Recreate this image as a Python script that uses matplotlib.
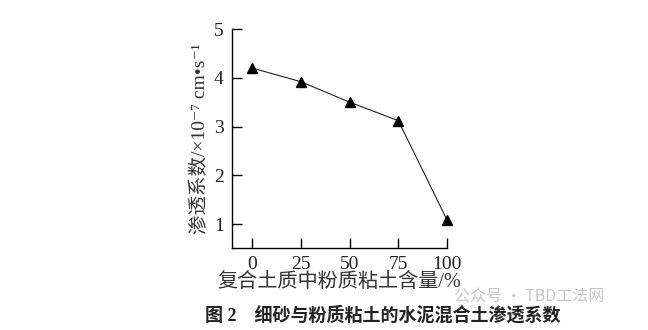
import matplotlib.pyplot as plt

# silt clay content (%) vs permeability coefficient (x10^-7 cm/s)
clay_pct = [0, 25, 50, 75, 100]
perm = [4.2, 3.92, 3.5, 3.12, 1.08]
xticks = [0, 25, 50, 75, 100]
yticks = [1, 2, 3, 4, 5]

mixed = ["Liberation Serif", "Noto Sans CJK SC", "DejaVu Sans"]

fig = plt.figure(figsize=(6.48, 3.30), dpi=100)
ax = fig.add_axes([0.358, 0.2485, 0.332, 0.6636])

ax.plot(clay_pct, perm, color="#222222", lw=0.8, marker="^",
        markersize=7, markerfacecolor="black", markeredgecolor="black",
        clip_on=False)

ax.set_xlim(-10.3, 100)
ax.set_ylim(0.51, 5)
ax.set_xticks(xticks)
ax.set_yticks(yticks)
ax.spines["top"].set_visible(False)
ax.spines["right"].set_visible(False)
for s in ("left", "bottom"):
    ax.spines[s].set_linewidth(1.0)
ax.tick_params(direction="in", length=7, width=1.0, labelsize=14, pad=6)
for lab in ax.get_xticklabels() + ax.get_yticklabels():
    lab.set_fontfamily("Liberation Serif")
    lab.set_color("#222222")

ax.set_xlabel("复合土质中粉质粘土含量/%", family=mixed, fontsize=14.5,
              color="#333333", labelpad=0)
ax.set_ylabel("渗透系数/×10⁻⁷ cm•s⁻¹", family=mixed, fontsize=14,
              color="#333333", labelpad=3)

fig.text(0.316, 0.045, "图 2　细砂与粉质粘土的水泥混合土渗透系数", family=mixed,
         fontsize=13, fontweight="bold", color="#222222", va="center")
fig.text(0.70, 0.10, "公众号 · TBD工法网", family=["Noto Sans CJK SC"],
         fontsize=11.5, color="#c8c8c8", va="center")

fig.savefig("out.png", dpi=100)
